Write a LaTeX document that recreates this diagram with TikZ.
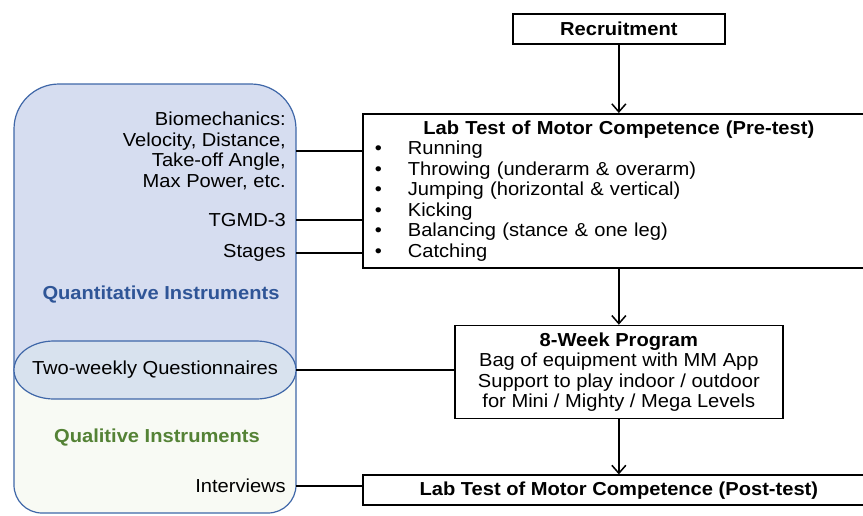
\documentclass[tikz,border=0pt]{standalone}
\usepackage{fontspec}
\setmainfont{Liberation Sans}[FakeStretch=1.07]
\usetikzlibrary{arrows.meta, positioning}
\definecolor{c1}{HTML}{000000}
\definecolor{qblue}{HTML}{D6DDF0}
\definecolor{qline}{HTML}{3F67A8}
\definecolor{qgreen}{HTML}{F8FAF4}
\definecolor{qoval}{HTML}{D8E2EE}
\definecolor{qtext}{HTML}{2F5597}
\definecolor{ltext}{HTML}{548235}
\newcommand\bul[1]{\hspace*{12pt}\makebox[33pt][l]{\textbullet}#1}

\begin{document}
\begin{tikzpicture}[x=1pt, y=-1pt,
    every node/.style={font=\fontsize{18.8pt}{20.5pt}\selectfont, text=c1},
    box/.style={draw=c1, line width=1.7pt, fill=white, inner sep=0pt},
    bold/.style={font=\fontsize{18.8pt}{20.5pt}\selectfont\bfseries},
    tool/.style={anchor=east, align=right, inner xsep=10pt, inner ysep=0pt},
    link/.style={c1, line width=1.5pt},
    flow/.style={c1, line width=1.5pt, -{Straight Barb[length=8pt, width=14pt]}},
]
\useasboundingbox (0,0) rectangle (863,515);
\clip (0,0) rectangle (863,515);

% ---------------- instrument panel, blue above and green below
\fill[qblue] (14,370) -- (14,129) arc[start angle=180, end angle=270, radius=45]
    -- (251,84) arc[start angle=270, end angle=360, radius=45] -- (296,370) -- cycle;
\fill[qgreen] (14,370) -- (14,485) arc[start angle=180, end angle=90, radius=28]
    -- (268,513) arc[start angle=90, end angle=0, radius=28] -- (296,370) -- cycle;
\draw[qline, line width=1.2pt] (14,129) arc[start angle=180, end angle=270, radius=45]
    -- (251,84) arc[start angle=270, end angle=360, radius=45]
    -- (296,485) arc[start angle=0, end angle=90, radius=28]
    -- (42,513) arc[start angle=90, end angle=180, radius=28] -- cycle;

% the oval shared by both groups
\filldraw[draw=qline, fill=qoval, line width=1.2pt] (54,341) -- (256,341)
    arc[start angle=-90, end angle=90, x radius=40, y radius=29]
    -- (54,399) arc[start angle=90, end angle=270, x radius=40, y radius=29] -- cycle;

\node[tool] (biomech) at (296,151) {Biomechanics:\\Velocity, Distance,\\Take-off Angle,\\Max Power, etc.};
\node[tool] (tgmd) at (296,220) {TGMD-3};
\node[tool] (stages) at (296,253) {Stages};
\node[bold, text=qtext] (quant) at (161,295) {Quantitative Instruments};
\node[inner sep=0pt, minimum width=282pt] (quest) at (155,370) {Two-weekly Questionnaires};
\node[bold, text=ltext] (qual) at (157,438) {Qualitive Instruments};
\node[tool] (interv) at (296,486) {Interviews};

% ---------------- study flow
\node[box, minimum width=512pt, minimum height=154pt, text width=512pt, align=left,
    anchor=north west] (pretest) at (362,113) {%
    \makebox[512pt]{\bfseries Lab Test of Motor Competence (Pre-test)}\\
    \bul{Running}\\
    \bul{Throwing (underarm \& overarm)}\\
    \bul{Jumping (horizontal \& vertical)}\\
    \bul{Kicking}\\
    \bul{Balancing (stance \& one leg)}\\
    \bul{Catching}};
\node[box, bold, minimum width=212pt, minimum height=30pt, above=68pt of pretest] (recruit) {Recruitment};
\node[box, minimum width=328pt, minimum height=93pt, align=center, below=56pt of pretest] (program)
    {\textbf{8-Week Program}\\Bag of equipment with MM App\\Support to play indoor / outdoor\\for Mini / Mighty / Mega Levels};
\node[box, bold, minimum width=512pt, minimum height=30pt, below=55pt of program] (posttest)
    {Lab Test of Motor Competence (Post-test)};

\draw[flow] (recruit) -- (pretest);
\draw[flow] (pretest) -- (program);
\draw[flow] (program) -- (posttest);

% instruments feeding the tests
\foreach \n in {biomech, tgmd, stages}{
    \draw[link] (\n.east) -- (\n.east -| pretest.west);
}
\draw[link] (quest.east) -- (quest.east -| program.west);
\draw[link] (interv.east) -- (interv.east -| posttest.west);
\end{tikzpicture}
\end{document}
